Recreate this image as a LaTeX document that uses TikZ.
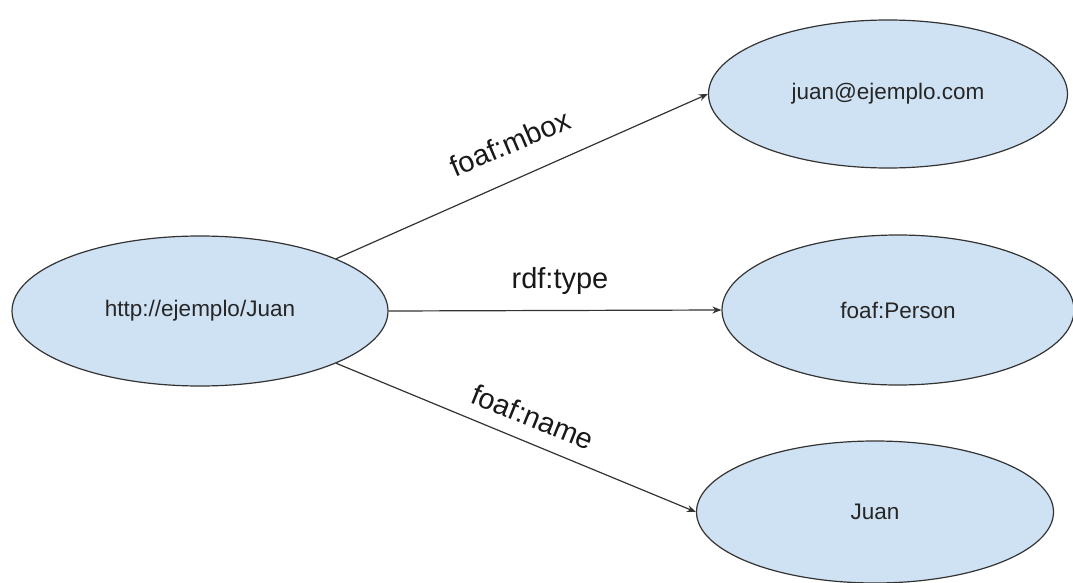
\documentclass[tikz,border=0pt]{standalone}
\usepackage{fontspec}
\setmainfont{Liberation Sans}
\usetikzlibrary{shapes.geometric,arrows.meta}
\definecolor{nodefill}{HTML}{CFE2F3}
\definecolor{edgecol}{HTML}{333333}
\begin{document}
\begin{tikzpicture}[x=1pt,y=-1pt,
  bubble/.style={ellipse,draw=edgecol,line width=1.2pt,fill=nodefill,inner sep=0pt},
  ntext/.style={font=\fontsize{22.5}{27}\selectfont,text=black!85,inner sep=0pt},
  ltext/.style={font=\fontsize{29}{34}\selectfont,text=black!90,inner sep=0pt},
  conn/.style={draw=edgecol,line width=1.2pt,-{Stealth[length=9pt,width=7pt]}}]
\useasboundingbox[fill=white] (0,0) rectangle (1073,583);
\clip (0,0) rectangle (1073,583);
\node[bubble,minimum width=376pt,minimum height=150pt] (L) at (200,311) {};
\node[bubble,minimum width=359pt,minimum height=148pt] (T) at (888,94) {};
\node[bubble,minimum width=352pt,minimum height=150pt] (M) at (898,310) {};
\node[bubble,minimum width=357pt,minimum height=142pt] (B) at (875,512) {};
\node[ntext] (Lt) at (L.center) {http://ejemplo/Juan};
\node[ntext] (Tt) at (T.center) {juan@ejemplo.com};
\node[ntext] (Mt) at (M.center) {foaf:Person};
\node[ntext] (Bt) at (B.center) {Juan};
\draw[conn] (L.21.7) -- (T.west);
\draw[conn] (L.east) -- (M.west);
\draw[conn] (L.-21.7) -- (B.west);
\node[ltext,rotate=23] (lm) at (510,143) {foaf:mbox};
\node[ltext] (lt) at (560,281) {rdf:type};
\node[ltext,rotate=-22] (ln) at (533,417) {foaf:name};
\end{tikzpicture}
\end{document}
